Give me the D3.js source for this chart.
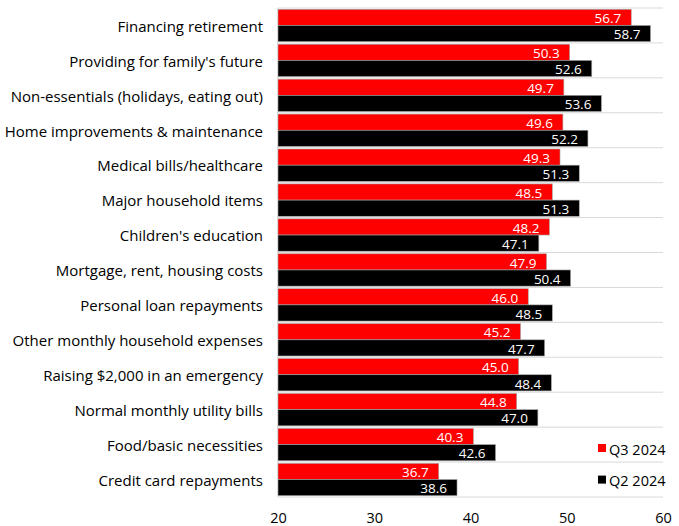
<!DOCTYPE html>
<html>
<head>
<meta charset="utf-8">
<script src="https://cdn.jsdelivr.net/npm/d3@7"></script>
<style>
  html, body { margin: 0; padding: 0; background: #fff; }
  svg text { font-family: "Open Sans", "Lato", sans-serif; }
</style>
</head>
<body>
<svg id="chart" width="679" height="526"></svg>
<script>
const categories = [
  "Financing retirement",
  "Providing for family's future",
  "Non-essentials (holidays, eating out)",
  "Home improvements & maintenance",
  "Medical bills/healthcare",
  "Major household items",
  "Children's education",
  "Mortgage, rent, housing costs",
  "Personal loan repayments",
  "Other monthly household expenses",
  "Raising $2,000 in an emergency",
  "Normal monthly utility bills",
  "Food/basic necessities",
  "Credit card repayments"
];
const q3_2024 = [56.7, 50.3, 49.7, 49.6, 49.3, 48.5, 48.2, 47.9, 46.0, 45.2, 45.0, 44.8, 40.3, 36.7];
const q2_2024 = [58.7, 52.6, 53.6, 52.2, 51.3, 51.3, 47.1, 50.4, 48.5, 47.7, 48.4, 47.0, 42.6, 38.6];
const seriesNames = ["Q3 2024", "Q2 2024"];
const seriesColors = ["#ff0000", "#000000"];
const xTicks = [20, 30, 40, 50, 60];

const svg = d3.select("#chart");
const plotLeft = 278, plotRight = 663, plotTop = 8, plotBottom = 497;

const x = d3.scaleLinear().domain([20, 60]).range([plotLeft, plotRight]);
const y = d3.scaleBand().domain(categories).range([plotTop, plotBottom]).padding(0);
const sub = d3.scaleBand().domain(seriesNames).range([0, y.bandwidth()]).paddingInner(0).paddingOuter(0.08);

const rows = categories.map((c, i) => ({ cat: c, values: [q3_2024[i], q2_2024[i]] }));

// horizontal separators between categories
svg.append("g")
  .selectAll("line")
  .data(d3.range(categories.length + 1))
  .join("line")
  .attr("x1", plotLeft).attr("x2", plotRight)
  .attr("y1", i => plotTop + i * y.step())
  .attr("y2", i => plotTop + i * y.step())
  .attr("stroke", "#d9d9d9").attr("stroke-width", 1);

// bars
const groups = svg.append("g").selectAll("g")
  .data(rows).join("g")
  .attr("transform", d => `translate(0,${y(d.cat)})`);

groups.selectAll("rect")
  .data(d => d.values.map((v, j) => ({ v, j })))
  .join("rect")
  .attr("x", x(20))
  .attr("y", d => sub(seriesNames[d.j]))
  .attr("width", d => x(d.v) - x(20))
  .attr("height", sub.bandwidth())
  .attr("fill", d => seriesColors[d.j])
  .attr("stroke", "#a6a6a6").attr("stroke-width", 0.6);

groups.selectAll("text.val")
  .data(d => d.values.map((v, j) => ({ v, j })))
  .join("text")
  .attr("class", "val")
  .attr("x", d => x(d.v) - 10)
  .attr("y", d => sub(seriesNames[d.j]) + sub.bandwidth() / 2 + 1)
  .attr("dy", "0.35em")
  .attr("text-anchor", "end")
  .attr("fill", "#fff")
  .attr("font-size", 13.5)
  .text(d => d.v.toFixed(1));

// left axis line
svg.append("line")
  .attr("x1", plotLeft - 0.5).attr("x2", plotLeft - 0.5)
  .attr("y1", plotTop).attr("y2", plotBottom)
  .attr("stroke", "#d9d9d9");

// category labels
svg.append("g").selectAll("text")
  .data(categories).join("text")
  .attr("x", 263)
  .attr("y", d => y(d) + y.bandwidth() / 2 + 1)
  .attr("dy", "0.35em")
  .attr("text-anchor", "end")
  .attr("fill", "#000")
  .attr("font-size", 15)
  .text(d => d);

// x axis
const xAxis = svg.append("g")
  .attr("transform", `translate(0,${plotBottom})`)
  .call(d3.axisBottom(x).tickValues(xTicks).tickSize(0).tickPadding(16).tickFormat(d3.format("d")));
xAxis.select(".domain").remove();
xAxis.selectAll("text").attr("font-size", 14.5).attr("fill", "#000")
  .style("font-family", "'Open Sans', Lato, sans-serif");

// legend
const legend = svg.append("g").selectAll("g")
  .data(seriesNames).join("g")
  .attr("transform", (d, i) => `translate(598,${448 + i * 31.6})`);
legend.append("rect")
  .attr("x", 0).attr("y", -4).attr("width", 8).attr("height", 8)
  .attr("fill", (d, i) => seriesColors[i]);
legend.append("text")
  .attr("x", 11).attr("y", 1.5).attr("dy", "0.35em")
  .attr("font-size", 14.5).attr("fill", "#000")
  .text(d => d);
</script>
</body>
</html>
